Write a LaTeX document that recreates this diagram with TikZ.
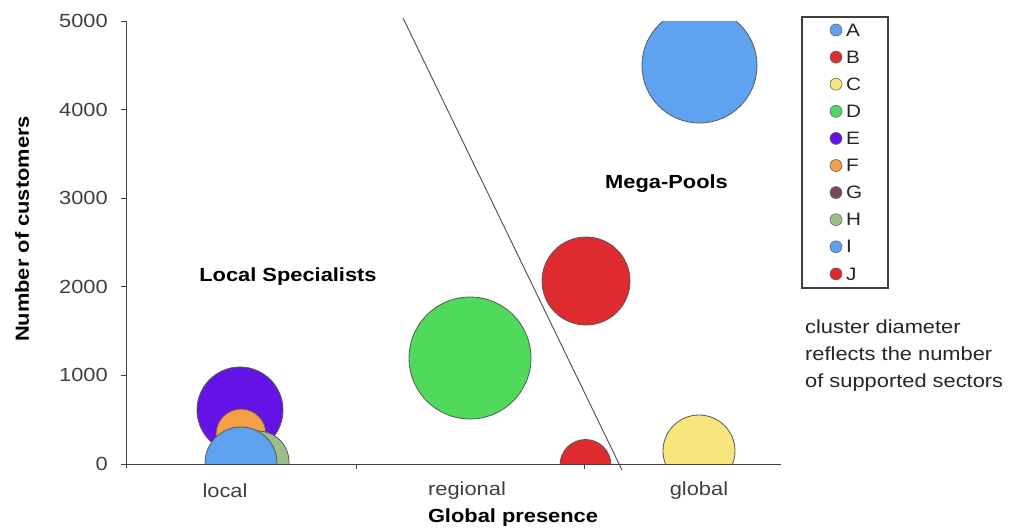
\documentclass[tikz,border=0pt]{standalone}
\usepackage{fontspec}
\setmainfont{Liberation Sans}[FakeStretch=1.15]
\definecolor{cA}{HTML}{5FA2F0}
\definecolor{cB}{HTML}{DF2A30}
\definecolor{cC}{HTML}{F8E57C}
\definecolor{cD}{HTML}{4FDA5B}
\definecolor{cE}{HTML}{6512E6}
\definecolor{cF}{HTML}{F5A044}
\definecolor{cG}{HTML}{7A4A52}
\definecolor{cH}{HTML}{9DBD8A}
\definecolor{cI}{HTML}{5FA2F0}
\definecolor{cJ}{HTML}{DF2A30}
\definecolor{tick}{HTML}{404040}
\begin{document}
\begin{tikzpicture}[x=1pt,y=-1pt,
  bub/.style={circle,draw=black!65,line width=0.8pt,inner sep=0pt},
  axis/.style={draw=black!75,line width=1pt},
  ticklab/.style={font=\fontsize{19}{22}\selectfont,text=tick,anchor=east,inner sep=0pt},
  catlab/.style={font=\fontsize{19}{22}\selectfont,text=tick,inner sep=0pt},
  boldlab/.style={font=\fontsize{19}{22}\selectfont\bfseries,inner sep=0pt},
  legdot/.style={circle,draw=black!60,line width=0.6pt,inner sep=0pt,minimum size=12pt},
  leglab/.style={font=\fontsize{18}{21}\selectfont,text=black!85,anchor=west,inner sep=0pt},
  note/.style={font=\fontsize{19}{27}\selectfont,text=black!85,align=left,anchor=north west,inner sep=0pt}]
\useasboundingbox (0,0) rectangle (1012,531);
\fill[white] (0,0) rectangle (1012,531);
% bubbles
\begin{scope}
\clip (126,21) rectangle (781,464);
\node[bub,fill=cA,minimum size=115pt] (A) at (699.5,65.5) {};
\node[bub,fill=cB,minimum size=88pt] (B) at (586,281) {};
\node[bub,fill=cC,minimum size=72pt] (C) at (699,451) {};
\node[bub,fill=cD,minimum size=122pt] (D) at (470,358) {};
\node[bub,fill=cE,minimum size=86pt] (E) at (240,410) {};
\node[bub,fill=cF,minimum size=50pt] (F) at (241,434) {};
\node[bub,fill=cH,minimum size=62pt] (H) at (258,462) {};
\node[bub,fill=cI,minimum size=72pt] (I) at (241,463) {};
\node[bub,fill=cJ,minimum size=51pt] (J) at (585.5,465) {};
\end{scope}
% axes
\coordinate (o) at (126,464);
\coordinate (ytop) at (126,21);
\coordinate (xend) at (781,464);
\draw[axis] (ytop) -- (126,468);
\draw[axis] (122,464) -- (xend);
\foreach \v/\y in {0/464,1000/375.4,2000/286.8,3000/198.2,4000/109.6,5000/21}{
  \draw[axis] (121,\y) -- (126,\y);
  \node[ticklab] (t\v) at (108,\y) {\v};
}
\draw[axis] (356,464) -- (356,469);
\draw[axis] (584,464) -- (584,469);
\node[catlab] (local) at (225,491) {local};
\node[catlab] (regional) at (467,491) {regional};
\node[catlab] (global) at (699,491) {global};
\node[boldlab] (xt) at (513,518) {Global presence};
\node[boldlab,rotate=90] (yt) at (22,229) {Number of customers};
% separator
\coordinate (s1) at (403,18);
\coordinate (s2) at (622,470);
\draw[black!70,line width=0.9pt] (s1) -- (s2);
% region labels
\node[boldlab] (loc) at (288,277) {Local Specialists};
\node[boldlab,anchor=west] (mega) at (605,184) {Mega-Pools};
% legend
\draw[black!75,line width=1.2pt] (802,17) rectangle (888,288);
\foreach \n [count=\i from 0] in {A,B,C,D,E,F,G,H,I,J}{
  \node[legdot,fill=c\n] (d\n) at (836,30+27.1*\i) {};
  \node[leglab] (l\n) at (846,30+27.1*\i) {\n};
}
% note
\node[note] (nt) at (805,320) {cluster diameter\\reflects the number\\of supported sectors};
\end{tikzpicture}
\end{document}
